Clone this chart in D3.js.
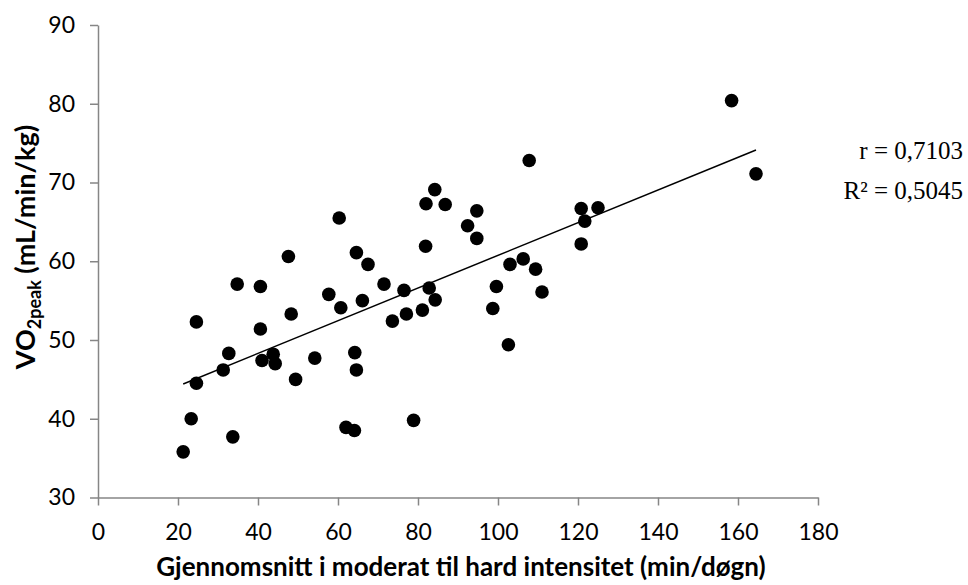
<!DOCTYPE html>
<html>
<head>
<meta charset="utf-8">
<script src="https://cdn.jsdelivr.net/npm/d3@7"></script>
<style>
  body { margin: 0; background: #fff; }
  svg { display: block; }
</style>
</head>
<body>
<script>
// minutes of moderate-to-hard activity per day (x) and VO2peak (y)
var minutesPerDay = [21.3, 23.3, 24.6, 24.6, 33.7, 31.3, 32.7, 34.8, 40.6, 40.6,
                     41.0, 43.8, 44.3, 48.3, 49.4, 54.2, 57.7, 60.7, 66.1, 64.2,
                     64.6, 62.0, 64.1, 78.9, 71.5, 76.5, 73.6, 77.1, 81.1, 82.8,
                     47.6, 60.3, 64.6, 67.5, 82.0, 81.9, 84.3, 84.2, 86.8, 94.7,
                     92.4, 94.7, 107.8, 103.0, 106.3, 109.4, 99.6, 111.0, 120.8, 125.0,
                     121.7, 120.8, 158.4, 164.5, 98.7, 102.6];
var vo2peak = [35.8, 40.0, 44.5, 52.3, 37.7, 46.2, 48.3, 57.1, 56.8, 51.4,
               47.4, 48.2, 47.0, 53.3, 45.0, 47.7, 55.8, 54.1, 55.0, 48.4,
               46.2, 38.9, 38.5, 39.8, 57.1, 56.3, 52.4, 53.3, 53.8, 56.6,
               60.6, 65.5, 61.1, 59.6, 67.3, 61.9, 55.1, 69.1, 67.2, 66.4,
               64.5, 62.9, 72.8, 59.6, 60.3, 59.0, 56.8, 56.1, 66.7, 66.8,
               65.1, 62.2, 80.4, 71.1, 54.0, 49.4];

// tick values
var xTicks = [0, 20, 40, 60, 80, 100, 120, 140, 160, 180];
var yTicks = [30, 40, 50, 60, 70, 80, 90];

// linear trendline as shown (y = slope*x + intercept) and its stats
var trendSlope = 0.2075;
var trendIntercept = 40.0;
var statLines = ["r = 0,7103", "R\u00b2 = 0,5045"];

var w = 968, h = 585;
var graphLeft = 98, graphRight = 818, graphTop = 25, graphBottom = 497.5;

var svg = d3.select("body").append("svg")
    .attr("width", w)
    .attr("height", h);

var x = d3.scaleLinear().domain([0, 180]).range([graphLeft, graphRight]);
var y = d3.scaleLinear().domain([30, 90]).range([graphBottom, graphTop]);

var axisColor = "#868686";
var tickFont = "Lato, 'Open Sans', sans-serif";

//y axis
var gy = svg.append("g")
    .attr("transform", "translate(" + graphLeft + ",0)")
    .call(d3.axisLeft(y).tickValues(yTicks).tickSize(8).tickPadding(15).tickSizeOuter(0));

//x axis
var gx = svg.append("g")
    .attr("transform", "translate(0," + graphBottom + ")")
    .call(d3.axisBottom(x).tickValues(xTicks).tickSize(8).tickPadding(18).tickSizeOuter(0));

[gx, gy].forEach(function(g) {
    g.select(".domain").attr("stroke", axisColor).attr("stroke-width", 1.5);
    g.selectAll(".tick line").attr("stroke", axisColor).attr("stroke-width", 1.5);
    g.selectAll(".tick text")
        .attr("fill", "#000")
        .style("font-family", tickFont)
        .style("font-size", "23px");
});

//the points
var pts = minutesPerDay.map(function(v, i) { return [v, vo2peak[i]]; });
svg.append("g").selectAll("circle")
    .data(pts)
    .enter()
    .append("circle")
    .attr("cx", function(d) { return x(d[0]); })
    .attr("cy", function(d) { return y(d[1]); })
    .attr("r", 6.8)
    .attr("fill", "#000");

//trendline over the data range
var xr = d3.extent(minutesPerDay);
svg.append("line")
    .attr("x1", x(xr[0]))
    .attr("y1", y(trendSlope * xr[0] + trendIntercept))
    .attr("x2", x(xr[1]))
    .attr("y2", y(trendSlope * xr[1] + trendIntercept))
    .attr("stroke", "#000")
    .attr("stroke-width", 1.5);

//r and R2 text
svg.append("g").selectAll("text")
    .data(statLines)
    .enter()
    .append("text")
    .attr("x", 963)
    .attr("y", function(d, i) { return 159 + i * 40; })
    .attr("text-anchor", "end")
    .style("font-family", "'Liberation Serif', 'Times New Roman', serif")
    .style("font-size", "25px")
    .text(function(d) { return d; });

//x axis title
svg.append("text")
    .attr("x", 461)
    .attr("y", 576)
    .attr("text-anchor", "middle")
    .style("font-family", tickFont)
    .style("font-weight", "bold")
    .style("font-size", "26px")
    .text("Gjennomsnitt i moderat til hard intensitet (min/døgn)");

//y axis title with subscript
var yt = svg.append("text")
    .attr("transform", "translate(35,247) rotate(-90)")
    .attr("text-anchor", "middle")
    .style("font-family", tickFont)
    .style("font-weight", "bold")
    .style("font-size", "27px");
yt.append("tspan").text("VO");
yt.append("tspan").attr("dy", 6).style("font-size", "18px").text("2peak");
yt.append("tspan").attr("dy", -6).text(" (mL/min/kg)");
</script>
</body>
</html>
